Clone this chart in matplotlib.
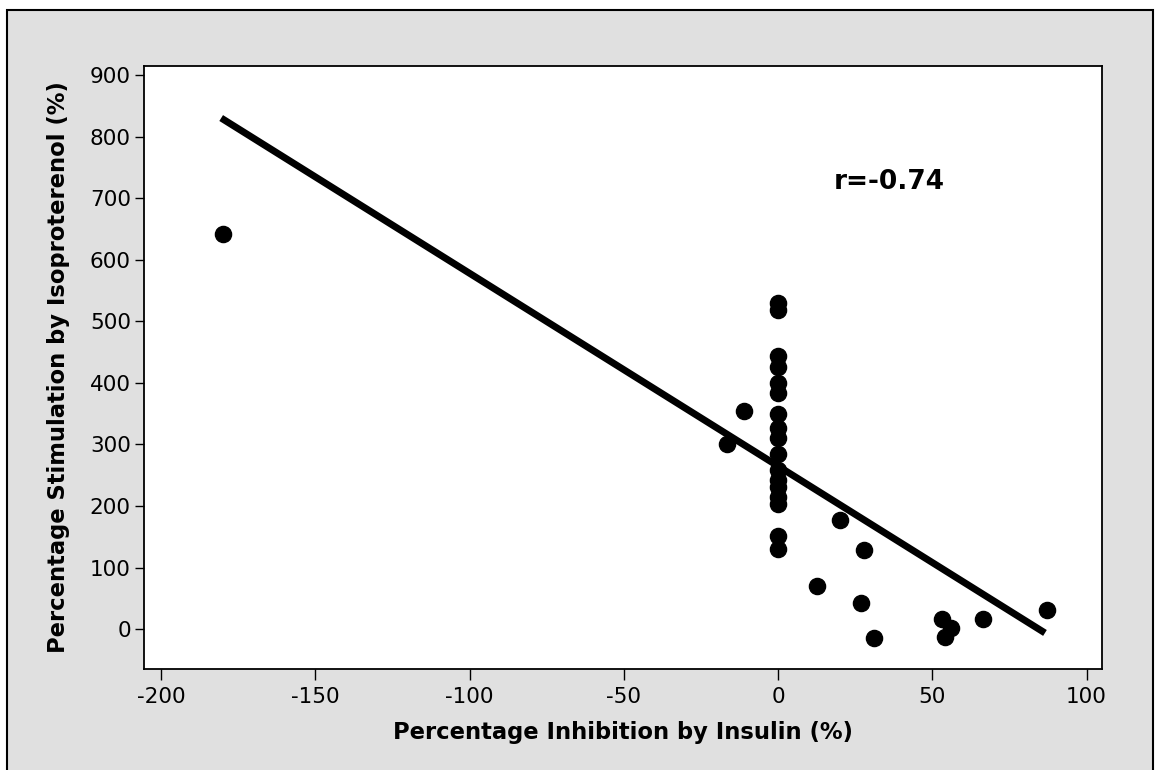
import numpy as np
import matplotlib
matplotlib.use('Agg')
import matplotlib.pyplot as plt
from matplotlib.patches import Rectangle

# points on the x=0 column (insulin had no effect)
zeroStim   = [530, 518, 443, 425, 400, 383, 350, 327, 310, 285, 258, 242, 231, 215, 203, 152, 130]
# other points
otherInhib = [-180, -16.5, -11, 20, 28, 12.6, 27, 31, 53, 56, 54, 66.5, 87]
otherStim  = [642, 300, 355, 177, 128, 70, 43, -15, 17, 2, -12, 17, 31]

inhibition  = np.array([0.0]*len(zeroStim) + otherInhib)
stimulation = np.array(zeroStim + otherStim)

# fitted line, end points as drawn
lineX = [-180.5, 86.5]
lineY = [830, -6]

rLabel = 'r=-0.74'
xTicks = [-200, -150, -100, -50, 0, 50, 100]
yTicks = [0, 100, 200, 300, 400, 500, 600, 700, 800, 900]

plt.rcParams['font.family'] = ['DejaVu Sans']
plt.rcParams['axes.unicode_minus'] = False

fig = plt.figure(figsize=(11.57, 7.70), dpi=100)
fig.patch.set_facecolor('white')
fig.patches.append(Rectangle((7/1157, -0.01), (1153-7)/1157, 1 - 10/770 + 0.01,
                             transform=fig.transFigure, facecolor='#e0e0e0',
                             edgecolor='black', linewidth=1.5, zorder=-5))

ax = fig.add_axes([0.1245, 0.1308, 0.828, 0.7839])
ax.set_facecolor('white')

ax.plot(lineX, lineY, color='black', linewidth=5, solid_capstyle='butt', zorder=2)
ax.scatter(inhibition, stimulation, s=135, color='black', zorder=3)

ax.set_xlim(-205.5, 105)
ax.set_ylim(-65, 915)
ax.set_xticks(xTicks)
ax.set_yticks(yTicks)
ax.tick_params(direction='out', width=1, labelsize=15.5, colors='black')
ax.tick_params(axis='x', length=8, pad=4.5)
ax.tick_params(axis='y', length=6.5, pad=3)

for s in ax.spines.values():
    s.set_linewidth(1.3)
    s.set_color('black')

ax.set_xlabel('Percentage Inhibition by Insulin (%)', fontsize=16.3, fontweight='bold', labelpad=10)
ax.set_ylabel('Percentage Stimulation by Isoproterenol (%)', fontsize=16.3, fontweight='bold', labelpad=14)

ax.text(36, 726, rLabel, fontsize=19, fontweight='bold', ha='center', va='center')

fig.savefig('out.png', dpi=100)
